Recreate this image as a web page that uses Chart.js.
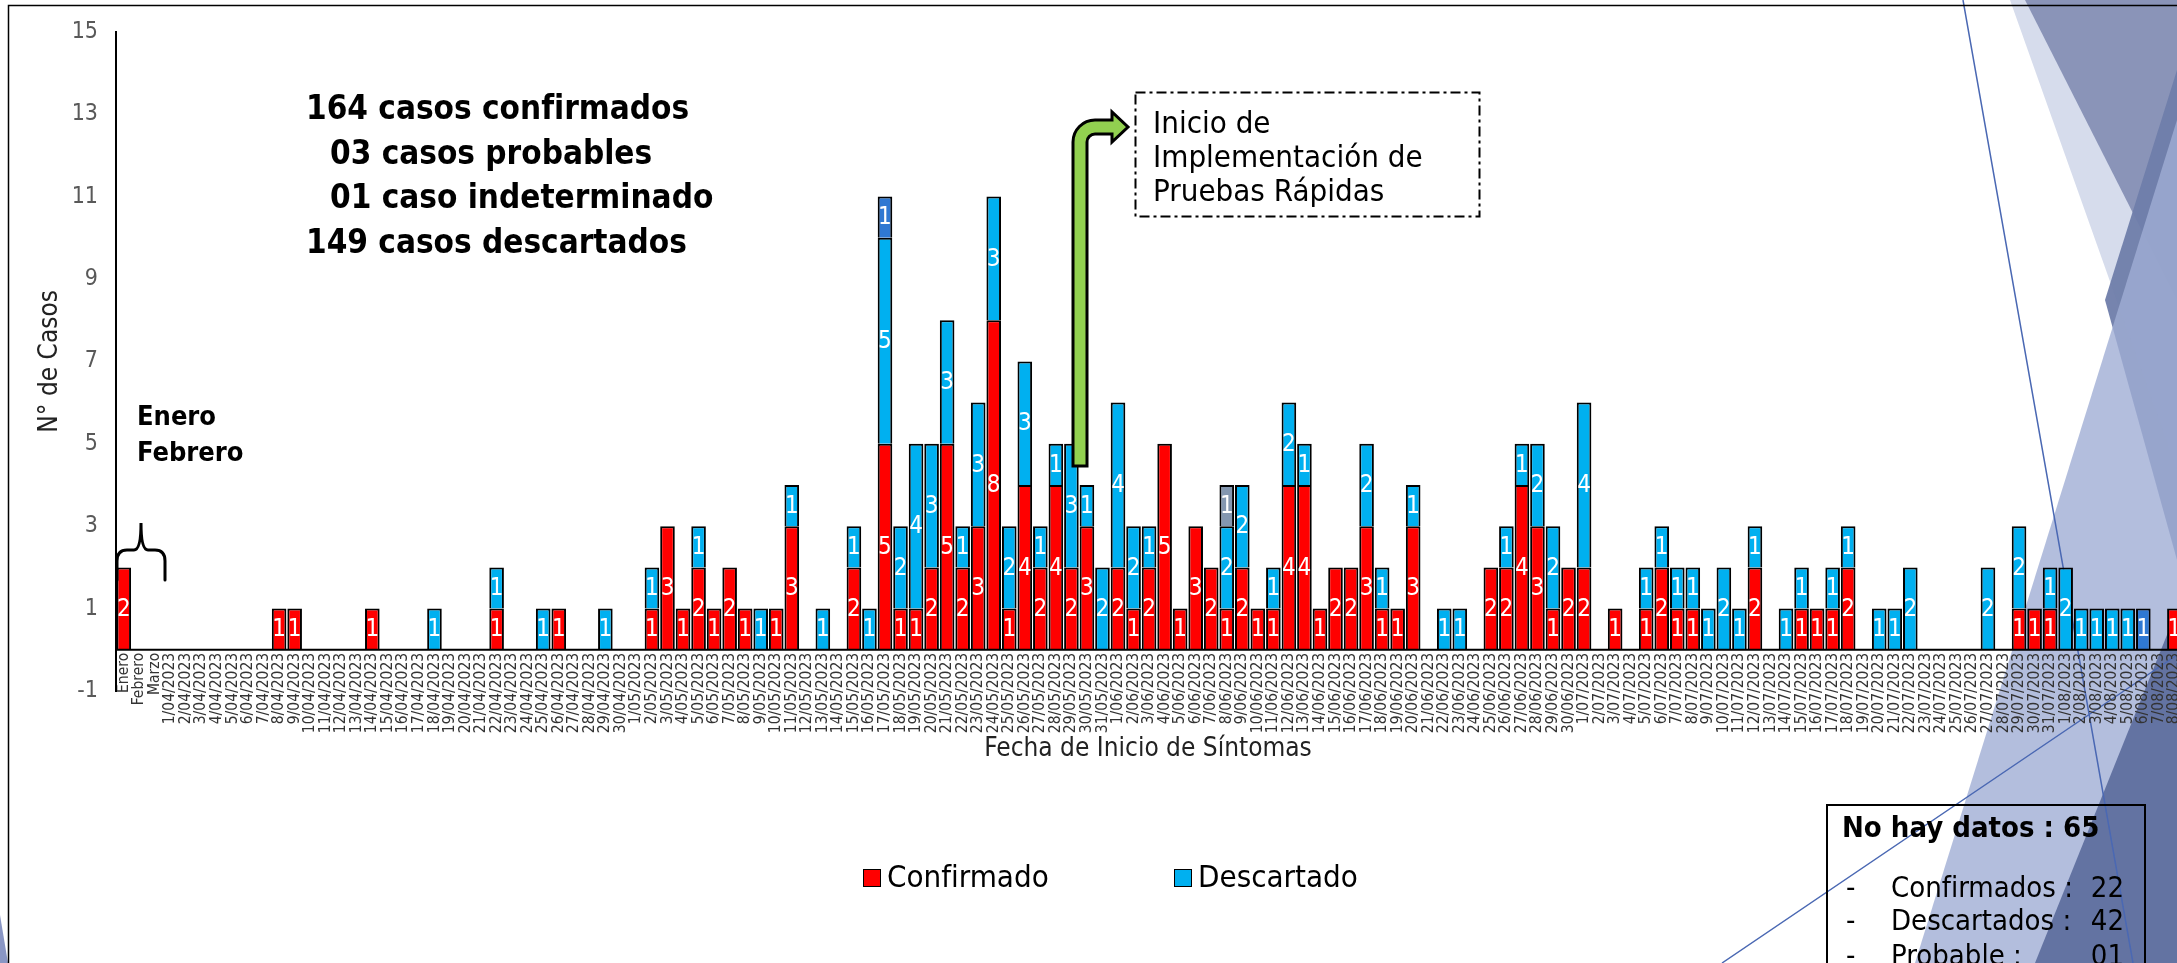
<!DOCTYPE html>
<html lang="es">
<head>
<meta charset="utf-8">
<title>Casos por fecha de inicio de síntomas</title>
<script src="https://cdn.jsdelivr.net/npm/chart.js@4.4.0/dist/chart.umd.min.js"></script>
<style>
  html, body { margin: 0; padding: 0; background: #fff; overflow: hidden; }
  /* a bit wider than the window: the last categories run past the right edge, as in the slide */
  #wrap { position: relative; width: 2196px; height: 963px; }
</style>
</head>
<body>
<div id="wrap"><canvas id="casesChart"></canvas></div>
<script>
// Tick labels: months before April, then one label per day
function dayLabels(month, count) {
    const out = [];
    for (let d = 1; d <= count; d++) out.push(d + '/' + month + '/2023');
    return out;
}
const categories = ['Enero', 'Febrero', 'Marzo',
    ...dayLabels('04', 30), ...dayLabels('05', 31), ...dayLabels('06', 30),
    ...dayLabels('07', 31), ...dayLabels('08', 8)];

// Confirmados per category
const confirmado = [
    2, 0, 0,
    0,0,0,0,0,0,0,1,1,0, 0,0,0,1,0,0,0,0,0,0, 0,1,0,0,0,1,0,0,0,0,      // abril
    0,1,3,1,2,1,2,1,0,1, 3,0,0,0,2,0,5,1,1,2, 5,2,3,8,1,4,2,4,2,3, 0,   // mayo
    2,1,2,5,1,3,2,1,2,1, 1,4,4,1,2,2,3,1,1,3, 0,0,0,0,2,2,4,3,1,2,      // junio
    2,0,1,0,1,2,1,1,0,0, 0,2,0,0,1,1,1,2,0,0, 0,0,0,0,0,0,0,0,1,1, 1,   // julio
    0,0,0,0,0,0,0,1                                                     // agosto
];

// Descartados per category
const descartado = [
    0, 0, 0,
    0,0,0,0,0,0,0,0,0,0, 0,0,0,0,0,0,0,1,0,0, 0,1,0,0,1,0,0,0,1,0,
    0,1,0,0,1,0,0,0,1,0, 1,0,1,0,1,1,5,2,4,3, 3,1,3,3,2,3,1,1,3,1, 2,
    4,2,1,0,0,0,0,2,2,0, 1,2,1,0,0,0,2,1,0,1, 0,1,1,0,0,1,1,2,2,0,
    4,0,0,0,1,1,1,1,1,2, 1,1,0,1,1,0,1,1,0,1, 1,2,0,0,0,0,2,0,2,0, 1,
    2,1,1,1,1,0,0,0
];

// Few extra segments (probable / indeterminado)
const probableDates = ['17/05/2023', '6/08/2023'];
const probableValues = [1, 1];
const indeterminadoDates = ['8/06/2023'];
const indeterminadoValues = [1];

// Annotation texts
const summaryLines = ['164 casos confirmados', '03 casos probables', '01 caso indeterminado', '149 casos descartados'];
const noDataTitle = 'No hay datos : 65';
const noDataRows = [['Confirmados :', '22'], ['Descartados :', '42'], ['Probable :', '01']];

const FONT = '"DejaVu Sans Condensed", "DejaVu Sans", sans-serif';
const COLORS = { conf: '#FF0000', desc: '#00B0F0', prob: '#2F78D2', indet: '#8497B0' };

function sparse(dates, values) {
    return categories.map(c => {
        const i = dates.indexOf(c);
        return i >= 0 ? values[i] : null;
    });
}

// Slide decoration behind the chart
const slideBackground = {
    id: 'slideBackground',
    beforeDraw(chart) {
        const ctx = chart.ctx;
        const shapes = [
            ['#D6DCEC', [[2010, 0], [2177, 0], [2177, 470]]],
            ['#8A94B8', [[2025, 0], [2177, 0], [2177, 300]]],
            ['rgba(111,125,170,0.95)', [[2177, 70], [2105, 300], [2177, 560]]],
            ['rgba(160,174,212,0.8)', [[2177, 120], [1915, 963], [2177, 963]]],
            ['rgba(90,106,155,0.9)', [[2177, 610], [2035, 963], [2177, 963]]],
            ['#8A96C4', [[0, 915], [8, 963], [0, 963]]]
        ];
        ctx.save();
        shapes.forEach(([color, pts]) => {
            ctx.fillStyle = color;
            ctx.beginPath();
            pts.forEach(([x, y], i) => i ? ctx.lineTo(x, y) : ctx.moveTo(x, y));
            ctx.closePath();
            ctx.fill();
        });
        ctx.strokeStyle = '#4A68B3';
        ctx.lineWidth = 1.5;
        ctx.beginPath();
        ctx.moveTo(1963, 0); ctx.lineTo(2133, 963);
        ctx.moveTo(1722, 963); ctx.lineTo(2177, 655);
        ctx.stroke();
        // chart frame
        ctx.strokeStyle = '#000';
        ctx.lineWidth = 1.5;
        ctx.beginPath();
        ctx.moveTo(8.5, 963); ctx.lineTo(8.5, 5.5); ctx.lineTo(2196, 5.5);
        ctx.stroke();
        ctx.restore();
    }
};

// Zero line and white value labels in the middle of each segment
const barValues = {
    id: 'barValues',
    afterDatasetsDraw(chart) {
        const ctx = chart.ctx;
        const area = chart.chartArea;
        const y0 = chart.scales.y.getPixelForValue(0);
        ctx.save();
        ctx.strokeStyle = '#000';
        ctx.lineWidth = 2;
        ctx.beginPath();
        ctx.moveTo(area.left, y0); ctx.lineTo(area.right, y0);
        ctx.stroke();

        ctx.font = '24px ' + FONT;
        ctx.fillStyle = '#fff';
        ctx.textAlign = 'center';
        ctx.textBaseline = 'middle';
        chart.data.datasets.forEach((ds, i) => {
            chart.getDatasetMeta(i).data.forEach((bar, j) => {
                const v = ds.data[j];
                if (!v) return;
                const { x, y, base } = bar.getProps(['x', 'y', 'base'], true);
                ctx.fillText(String(v), x, (y + base) / 2 + 1);
            });
        });
        ctx.restore();
    }
};

// Titles, legend and the slide annotations
const annotations = {
    id: 'annotations',
    afterDraw(chart) {
        const ctx = chart.ctx;
        ctx.save();
        ctx.fillStyle = '#222';
        ctx.textBaseline = 'middle';

        // x axis title
        ctx.font = '26px ' + FONT;
        ctx.textAlign = 'center';
        ctx.fillText('Fecha de Inicio de Síntomas', 1148, 749);

        // legend (only the two main series)
        const legendX = [863, 1174];
        ctx.font = '31px ' + FONT;
        ctx.textAlign = 'left';
        chart.data.datasets.slice(0, 2).forEach((ds, i) => {
            ctx.fillStyle = ds.backgroundColor;
            ctx.fillRect(legendX[i], 869, 18, 18);
            ctx.strokeStyle = '#000';
            ctx.lineWidth = 1;
            ctx.strokeRect(legendX[i] + 0.5, 869.5, 17, 17);
            ctx.fillStyle = '#000';
            ctx.fillText(ds.label, legendX[i] + 24, 879);
        });

        // summary block
        ctx.fillStyle = '#000';
        ctx.textBaseline = 'alphabetic';
        ctx.font = 'bold 33px ' + FONT;
        const sx = [306, 330, 330, 306];
        summaryLines.forEach((t, i) => ctx.fillText(t, sx[i], 119 + i * 44.5));

        // Enero / Febrero with brace
        ctx.font = 'bold 27px ' + FONT;
        ctx.fillText('Enero', 137, 425);
        ctx.fillText('Febrero', 137, 461);
        ctx.strokeStyle = '#000';
        ctx.lineWidth = 3;
        ctx.lineCap = 'round';
        ctx.beginPath();
        ctx.moveTo(117, 580); ctx.lineTo(117, 561);
        ctx.quadraticCurveTo(117, 550, 127, 550);
        ctx.lineTo(134, 550);
        ctx.quadraticCurveTo(141, 550, 141, 523);
        ctx.quadraticCurveTo(141, 550, 148, 550);
        ctx.lineTo(155, 550);
        ctx.quadraticCurveTo(165, 550, 165, 561);
        ctx.lineTo(165, 580);
        ctx.stroke();

        // green bent arrow
        ctx.lineCap = 'butt';
        ctx.lineJoin = 'miter';
        ctx.beginPath();
        ctx.moveTo(1073, 466);
        ctx.lineTo(1073, 142);
        ctx.arc(1095, 142, 22, Math.PI, Math.PI * 1.5);
        ctx.lineTo(1112, 120);
        ctx.lineTo(1112, 112);
        ctx.lineTo(1128, 127);
        ctx.lineTo(1112, 142);
        ctx.lineTo(1112, 134);
        ctx.lineTo(1095, 134);
        ctx.arc(1095, 142, 8, Math.PI * 1.5, Math.PI, true);
        ctx.lineTo(1087, 466);
        ctx.closePath();
        ctx.fillStyle = '#92D050';
        ctx.fill();
        ctx.lineWidth = 3;
        ctx.stroke();

        // dash-dot note box
        ctx.lineWidth = 2;
        ctx.setLineDash([10, 4, 3, 4]);
        ctx.strokeRect(1135.5, 92.5, 344, 124);
        ctx.setLineDash([]);
        ctx.fillStyle = '#000';
        ctx.font = '31px ' + FONT;
        ['Inicio de', 'Implementación de', 'Pruebas Rápidas'].forEach((t, i) => ctx.fillText(t, 1153, 133 + i * 34));

        // "No hay datos" box
        ctx.lineWidth = 2;
        ctx.strokeRect(1827, 805, 318, 200);
        ctx.font = 'bold 29px ' + FONT;
        ctx.textBaseline = 'middle';
        ctx.fillText(noDataTitle, 1842, 829);
        ctx.font = '29px ' + FONT;
        const rowY = [889, 922, 957];
        noDataRows.forEach(([label, num], i) => {
            ctx.textAlign = 'left';
            ctx.fillText('-', 1846, rowY[i]);
            ctx.fillText(label, 1891, rowY[i]);
            ctx.textAlign = 'right';
            ctx.fillText(num, 2124, rowY[i]);
        });
        ctx.restore();
    }
};

Chart.defaults.font.family = FONT;

const ctx = document.getElementById('casesChart').getContext('2d');
new Chart(ctx, {
    type: 'bar',
    data: {
        labels: categories,
        datasets: [
            { label: 'Confirmado', data: confirmado.map(v => v || null), backgroundColor: COLORS.conf },
            { label: 'Descartado', data: descartado.map(v => v || null), backgroundColor: COLORS.desc },
            { label: 'Probable', data: sparse(probableDates, probableValues), backgroundColor: COLORS.prob },
            { label: 'Indeterminado', data: sparse(indeterminadoDates, indeterminadoValues), backgroundColor: COLORS.indet }
        ]
    },
    options: {
        responsive: true,
        maintainAspectRatio: false,
        animation: false,
        events: [],
        layout: { padding: { left: 8, top: 18, right: 0, bottom: 272 } },
        datasets: {
            bar: { borderColor: '#000', borderWidth: 2, categoryPercentage: 0.94, barPercentage: 1 }
        },
        plugins: { legend: { display: false }, tooltip: { enabled: false } },
        scales: {
            x: {
                stacked: true,
                position: { y: 0 },
                grid: { display: false, drawTicks: false },
                border: { display: false },
                ticks: {
                    autoSkip: false, maxRotation: 90, minRotation: 90, padding: 3,
                    color: '#333', font: { size: 15.5 }
                }
            },
            y: {
                stacked: true,
                min: -1,
                max: 15,
                grid: { display: false, drawTicks: false },
                border: { display: true, color: '#000', width: 2 },
                ticks: { stepSize: 2, padding: 18, color: '#595959', font: { size: 23 } },
                title: {
                    display: true, text: 'N° de Casos', color: '#222',
                    font: { size: 26 }, padding: { top: 27, bottom: 0 }
                },
                afterFit(scale) { scale.width = 108; }
            }
        }
    },
    plugins: [slideBackground, barValues, annotations]
});
</script>
</body>
</html>
